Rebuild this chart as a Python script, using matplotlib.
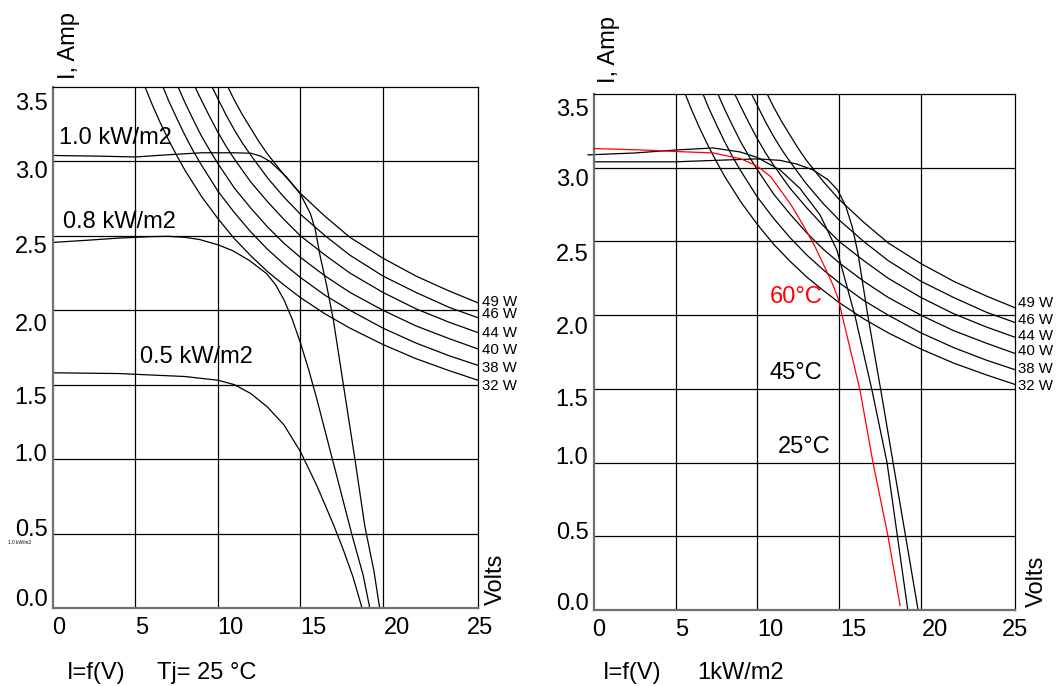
import matplotlib
matplotlib.use("Agg")
import matplotlib.pyplot as plt
import matplotlib.transforms as mtrans

plt.rcParams['font.family'] = ['Liberation Sans', 'DejaVu Sans']

# ---------------- data ----------------
grid_x = [0, 5, 10, 15, 20, 25]
grid_y = [0.0, 0.5, 1.0, 1.5, 2.0, 2.5, 3.0, 3.5]
x_labels = ['0', '5', '10', '15', '20', '25']
y_labels = ['0.0', '0.5', '1.0', '1.5', '2.0', '2.5', '3.0', '3.5']

power_labels = ['49 W', '46 W', '44 W', '40 W', '38 W', '32 W']
# constant-power curves (V, I)
p49_v = [10.6, 11.0, 11.5, 12.0, 12.5, 13.0, 14.0, 15.0, 16.5, 18.0, 20.0, 22.0, 24.0, 25.76]
p49_i = [3.50, 3.41, 3.31, 3.22, 3.13, 3.05, 2.91, 2.785, 2.63, 2.49, 2.35, 2.23, 2.13, 2.05]
p46_v = [9.64, 10.0, 10.5, 11.0, 11.5, 12.0, 13.0, 14.0, 15.0, 16.5, 18.0, 20.0, 22.0, 24.0, 25.76]
p46_i = [3.50, 3.42, 3.31, 3.21, 3.12, 3.04, 2.89, 2.76, 2.645, 2.50, 2.37, 2.23, 2.12, 2.02, 1.95]
p44_v = [8.61, 9.0, 9.5, 10.0, 10.5, 11.0, 12.0, 13.0, 14.0, 15.0, 16.5, 18.0, 20.0, 22.0, 24.0, 25.76]
p44_i = [3.50, 3.41, 3.30, 3.195, 3.10, 3.015, 2.86, 2.73, 2.61, 2.50, 2.37, 2.25, 2.12, 2.01, 1.92, 1.85]
p40_v = [7.58, 8.0, 8.5, 9.0, 9.5, 10.0, 11.0, 12.0, 13.0, 14.0, 15.0, 16.5, 18.0, 20.0, 22.0, 24.0, 25.76]
p40_i = [3.50, 3.395, 3.28, 3.17, 3.075, 2.985, 2.82, 2.685, 2.56, 2.45, 2.355, 2.23, 2.12, 2.00, 1.895, 1.81, 1.74]
p38_v = [6.67, 7.0, 7.5, 8.0, 8.5, 9.0, 10.0, 11.0, 12.0, 13.0, 14.0, 15.0, 16.5, 18.0, 20.0, 22.0, 24.0, 25.76]
p38_i = [3.50, 3.41, 3.29, 3.175, 3.07, 2.975, 2.80, 2.655, 2.525, 2.41, 2.31, 2.22, 2.10, 2.00, 1.88, 1.78, 1.695, 1.63]
p32_v = [5.58, 6.0, 6.5, 7.0, 7.5, 8.0, 9.0, 10.0, 11.0, 12.0, 13.0, 14.0, 15.0, 16.5, 18.0, 20.0, 22.0, 24.0, 25.76]
p32_i = [3.50, 3.385, 3.26, 3.145, 3.04, 2.94, 2.765, 2.615, 2.48, 2.365, 2.26, 2.17, 2.085, 1.975, 1.88, 1.77, 1.675, 1.595, 1.53]
power_v = [p49_v, p46_v, p44_v, p40_v, p38_v, p32_v]
power_i = [p49_i, p46_i, p44_i, p40_i, p38_i, p32_i]

# irradiance curves (left chart, Tj = 25 C)
g10_v = [0.0, 3.0, 5.0, 7.0, 9.0, 11.0, 12.0, 12.6, 13.15, 14.16, 15.0, 15.6, 15.9, 16.2, 16.6, 17.0,
         17.6, 18.3, 18.9, 19.45, 19.8]
g10_i = [3.04, 3.035, 3.03, 3.045, 3.058, 3.058, 3.055, 3.035, 3.0, 2.895, 2.78, 2.65, 2.54, 2.36, 2.16, 1.93,
         1.50, 1.00, 0.55, 0.25, 0.0]
g08_v = [0.0, 2.0, 4.0, 5.0, 6.0, 7.0, 8.0, 8.9, 10.0, 10.9, 11.9, 12.95, 13.5, 14.0, 14.5, 15.0, 15.5,
         16.0, 16.7, 17.4, 18.1, 18.8, 19.2]
g08_i = [2.456, 2.47, 2.485, 2.49, 2.495, 2.497, 2.49, 2.475, 2.44, 2.40, 2.335, 2.246, 2.17, 2.07, 1.94, 1.78,
         1.60, 1.40, 1.10, 0.80, 0.50, 0.22, 0.0]
g05_v = [0.0, 4.0, 8.0, 10.0, 11.0, 12.0, 13.0, 14.0, 15.0, 16.0, 17.0, 17.6, 18.18, 18.73]
g05_i = [1.58, 1.575, 1.555, 1.53, 1.50, 1.44, 1.35, 1.23, 1.05, 0.82, 0.56, 0.39, 0.21, 0.0]

# temperature curves (right chart, 1 kW/m2)
t60_v = [0.0, 3.0, 5.0, 7.3, 9.0, 10.0, 10.8, 11.4, 12.1, 12.8, 13.5, 14.1, 14.6, 14.95, 15.2, 16.28,
         17.07, 17.99, 18.73]
t60_i = [3.13, 3.12, 3.11, 3.10, 3.06, 3.01, 2.94, 2.85, 2.74, 2.61, 2.47, 2.33, 2.21, 2.11, 1.99, 1.49,
         1.00, 0.50, 0.03]
t45_v = [-0.37, 2.5, 4.96, 7.28, 8.94, 9.98, 11.38, 12.6, 13.83, 14.87, 15.97, 17.01, 17.93, 19.2]
t45_i = [3.087, 3.10, 3.12, 3.134, 3.107, 3.07, 2.985, 2.86, 2.68, 2.44, 1.995, 1.49, 1.00, 0.0]
t25_v = [0.0, 4.96, 9.98, 11.38, 12.4, 13.4, 14.3, 14.9, 15.4, 15.8, 16.15, 16.75, 17.55, 18.3, 19.83]
t25_i = [3.04, 3.04, 3.06, 3.05, 3.025, 2.985, 2.92, 2.85, 2.74, 2.60, 2.42, 2.00, 1.49, 1.00, 0.0]

# ---------------- layout ----------------
W, H = 1060, 686
fig = plt.figure(figsize=(W / 100, H / 100), dpi=100)


def px_axes(l, t, r, b):
    return fig.add_axes([l / W, 1 - b / H, (r - l) / W, (b - t) / H])


def ftext(x, y, s, **kw):
    fig.text(x / W, 1 - y / H, s, **kw)


def shift(lab, dx, dy):
    lab.set_transform(lab.get_transform() + mtrans.ScaledTranslation(dx / 100, -dy / 100, fig.dpi_scale_trans))


LW = 0.9
fs = 17


def setup(ax, xlab_dx, ylab_dy):
    ax.set_xlim(0, 25.76)
    ax.set_ylim(0, 3.5)
    ax.set_xticks(grid_x)
    ax.set_xticklabels(x_labels, fontsize=fs)
    ax.set_yticks(grid_y)
    ax.set_yticklabels(y_labels, fontsize=fs)
    ax.tick_params(length=0, pad=4)
    for gx in grid_x[1:-1]:
        ax.axvline(gx, color='black', lw=LW, zorder=1)
    for gy in grid_y[1:-1]:
        ax.axhline(gy, color='black', lw=LW, zorder=1)
    for lab, d in zip(ax.get_xticklabels(), xlab_dx):
        shift(lab, d, 3)
    for lab, d in zip(ax.get_yticklabels(), ylab_dy):
        shift(lab, 0, d)
    ax.spines['left'].set_color('#707070')
    ax.spines['bottom'].set_color('#707070')
    ax.spines['left'].set_linewidth(1.6)
    ax.spines['bottom'].set_linewidth(1.6)
    ax.spines['top'].set_linewidth(LW)
    ax.spines['right'].set_linewidth(LW)
    for pv, pi in zip(power_v, power_i):
        ax.plot(pv, pi, color='black', lw=LW, zorder=2)


axL = px_axes(53, 87, 478, 608)
setup(axL, [6, 6.5, 12.5, 12.5, 14, 14.5], [-10, -6.5, -7, 11, 12, 9, 8, 14])
axL.plot(g10_v, g10_i, color='black', lw=LW, zorder=2)
axL.plot(g08_v, g08_i, color='black', lw=LW, zorder=2)
axL.plot(g05_v, g05_i, color='black', lw=LW, zorder=2)

axR = px_axes(594, 94, 1015, 610)
setup(axR, [5, 6, 12.5, 14, 14, 12.5], [-9, -6, -7, 9, 10, 11, 10, 13])
axR.plot(t25_v, t25_i, color='black', lw=LW, zorder=2, clip_on=False)
axR.plot(t45_v, t45_i, color='black', lw=LW, zorder=2, clip_on=False)
axR.plot(t60_v, t60_i, color='red', lw=LW, zorder=3)

# ---------------- texts ----------------
ftext(69, 46, 'I, Amp', rotation=90, ha='center', va='center', fontsize=fs)
ftext(609, 50, 'I, Amp', rotation=90, ha='center', va='center', fontsize=fs)
ftext(496, 579, 'Volts', rotation=90, ha='center', va='center', fontsize=fs)
ftext(1037, 581, 'Volts', rotation=90, ha='center', va='center', fontsize=fs)

ftext(59, 138, '1.0 kW/m2', ha='left', va='center', fontsize=fs)
ftext(63, 222, '0.8 kW/m2', ha='left', va='center', fontsize=fs)
ftext(140, 357, '0.5 kW/m2', ha='left', va='center', fontsize=fs)
ftext(8, 542, '1.0 kW/m2', ha='left', va='center', fontsize=3.4)

for lab, y in zip(power_labels, [302, 314, 333, 350, 368, 386]):
    ftext(482, y, lab, ha='left', va='center', fontsize=10.8)
for lab, y in zip(power_labels, [303, 320, 336, 351, 369, 386]):
    ftext(1018, y, lab, ha='left', va='center', fontsize=10.8)

ftext(770, 297, '60°C', ha='left', va='center', fontsize=fs, color='red')
ftext(770, 373, '45°C', ha='left', va='center', fontsize=fs)
ftext(778, 447, '25°C', ha='left', va='center', fontsize=fs)

ftext(67, 673, 'I=f(V)', ha='left', va='center', fontsize=fs)
ftext(157, 673, 'Tj= 25 °C', ha='left', va='center', fontsize=fs)
ftext(603, 673, 'I=f(V)', ha='left', va='center', fontsize=fs)
ftext(697, 673, '1kW/m2', ha='left', va='center', fontsize=fs)

fig.savefig('out.png', dpi=100)
